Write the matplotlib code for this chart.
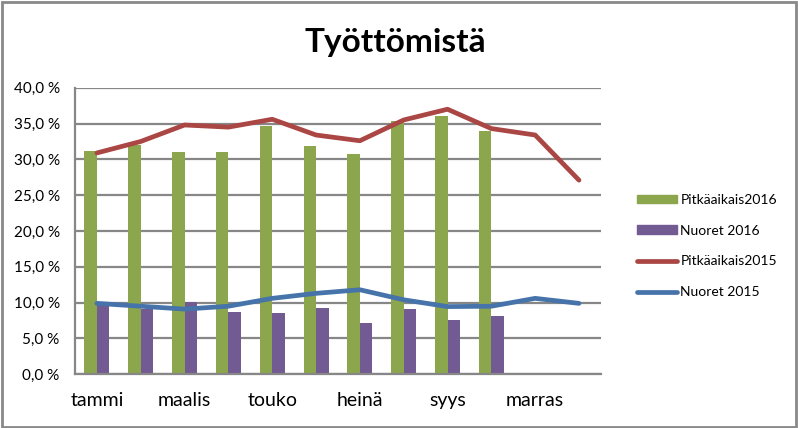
import matplotlib.pyplot as plt
import numpy as np
from matplotlib.lines import Line2D
from matplotlib.patches import Patch, Rectangle

plt.rcParams['font.family'] = ['Lato', 'DejaVu Sans']

months = ['tammi', 'helmi', 'maalis', 'huhti', 'touko', 'kesä',
          'heinä', 'elo', 'syys', 'loka', 'marras', 'joulu']
pitka2016 = [31.1, 32.0, 31.0, 31.0, 34.6, 31.8, 30.8, 35.3, 36.0, 33.9]
nuoret2016 = [10.0, 9.1, 10.1, 8.75, 8.5, 9.2, 7.2, 9.1, 7.6, 8.2]
pitka2015 = [30.9, 32.5, 34.8, 34.5, 35.6, 33.4, 32.6, 35.5, 37.0, 34.3, 33.4, 27.1]
nuoret2015 = [9.9, 9.5, 9.1, 9.5, 10.6, 11.3, 11.8, 10.4, 9.45, 9.5, 10.6, 9.9]
yticks = [0, 5, 10, 15, 20, 25, 30, 35, 40]

green = '#8BA64C'
purple = '#725A93'
red = '#AA4643'
blue = '#4673A9'
grid_c = '#878787'

fig = plt.figure(figsize=(7.98, 4.28), dpi=100)
ax = fig.add_axes([0.094, 0.1255, 0.659, 0.6695])

x = np.arange(len(months))
w = 0.285
ax.bar(x[:len(pitka2016)] - w / 2, pitka2016, w, color=green, zorder=2)
ax.bar(x[:len(nuoret2016)] + w / 2, nuoret2016, w, color=purple, zorder=2)
ax.plot(x, pitka2015, color=red, lw=3.4, solid_capstyle='round', solid_joinstyle='round', zorder=3)
ax.plot(x, nuoret2015, color=blue, lw=3.4, solid_capstyle='round', solid_joinstyle='round', zorder=3)

ax.set_xlim(-0.5, 11.5)
ax.set_ylim(0, 40)
ax.set_yticks(yticks)
ax.set_yticklabels([('%.1f' % v).replace('.', ',') + ' %' for v in yticks], fontsize=11)
ax.set_xticks(x[::2])
ax.set_xticklabels(months[::2], fontsize=14)
ax.tick_params(axis='y', length=0, pad=11)
ax.tick_params(axis='x', length=0, pad=13)
ax.yaxis.grid(True, color=grid_c, lw=1.6, zorder=0)
ax.set_axisbelow(True)
for s in ['top', 'right']:
    ax.spines[s].set_visible(False)
for s in ['left', 'bottom']:
    ax.spines[s].set_color(grid_c)
    ax.spines[s].set_linewidth(1.6)

fig.text(0.496, 0.9, 'Työttömistä', fontsize=24, fontweight='bold', ha='center', va='center')

handles = [Patch(color=green), Patch(color=purple),
           Line2D([], [], color=red, lw=3.4, solid_capstyle='round'),
           Line2D([], [], color=blue, lw=3.4, solid_capstyle='round')]
labels = ['Pitkäaikais2016', 'Nuoret 2016', 'Pitkäaikais2015', 'Nuoret 2015']
fig.legend(handles, labels, loc='center left', bbox_to_anchor=(0.782, 0.425),
           frameon=False, fontsize=10, handlelength=2.9, handleheight=0.6,
           labelspacing=1.35, handletextpad=0.25)

fig.patches.append(Rectangle((0.002, 0.003), 0.995, 0.993, transform=fig.transFigure,
                             fill=False, edgecolor='#898989', lw=2))

fig.savefig('out.png', dpi=100)
